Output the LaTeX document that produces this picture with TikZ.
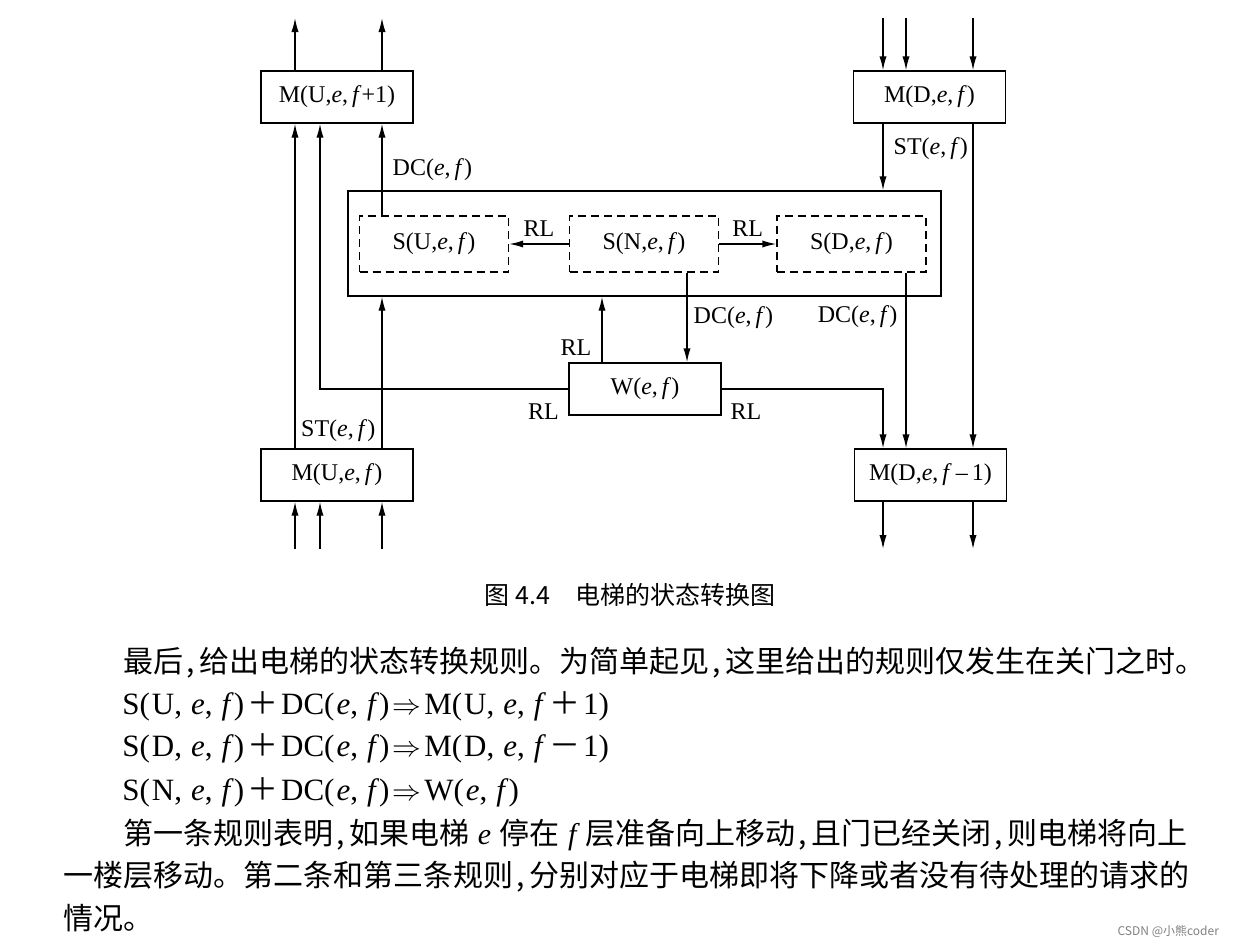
\documentclass[tikz,border=0pt]{standalone}
\usepackage{fontspec}
\setmainfont{Liberation Serif}
\newfontfamily\cjk{Noto Sans CJK SC}
\usetikzlibrary{arrows.meta}
\newcommand\vv[1]{\textit{#1}}
\newcommand\pl{\hspace{1.5pt}{\cjk ＋}\hspace{1.5pt}}
\newcommand\mi{\hspace{1.5pt}{\cjk －}\hspace{1.5pt}}
\newcommand\im{\hspace{1.5pt}$\Rightarrow$\hspace{1.5pt}}
\newcommand\cmm{,\hspace{4.5pt}}
\newcommand\lpar{(\hspace{1pt}}
\newcommand\ccm{\kern0.1em,\kern0.16em}
\tikzset{
  box/.style={draw,line width=0.7pt,minimum width=76pt,minimum height=26pt,inner sep=0pt,font=\fontsize{12}{14}\selectfont},
  sbox/.style={box,dash pattern=on 4pt off 2.5pt,minimum width=74.5pt,minimum height=28pt},
  arr/.style={line width=0.7pt,-{Latex[length=7pt,width=3.6pt]}},
  lbl/.style={font=\fontsize{12}{14}\selectfont,inner sep=2pt},
  txtline/.style={font=\cjk\fontsize{15}{17}\selectfont,anchor=west,inner sep=0pt},
  ruleline/.style={font=\fontsize{15.5}{18}\selectfont,anchor=west,inner sep=0pt}
}
\begin{document}
\begin{tikzpicture}[x=0.5pt,y=-0.5pt]
\useasboundingbox (0,0) rectangle (1240,950);
% states
\node[box] (mu1) at (337,97) {M(U,\vv{e},\,\vv{f}+1)};
\node[box] (md) at (929.5,97) {M(D,\vv{e},\,\vv{f})};
\node[draw,line width=0.7pt,minimum width=296.5pt,minimum height=52.5pt] (ctrl) at (644.5,243.5) {};
\node[sbox] (su) at (434,244) {S(U,\vv{e},\,\vv{f})};
\node[sbox] (sn) at (644,244) {S(N,\vv{e},\,\vv{f})};
\node[sbox] (sd) at (851.5,244) {S(D,\vv{e},\,\vv{f})};
\node[box] (w) at (645,389) {W(\vv{e},\,\vv{f})};
\node[box] (mu) at (337,475) {M(U,\vv{e},\,\vv{f})};
\node[box] (md1) at (930.5,475) {M(D,\vv{e},\,\vv{f}\,--\,1)};
% columns
\foreach \n/\p in {x1/295,x2/320,x3/382,x4/602,x5/687,x6/883,x7/906,x8/973}
  \coordinate (\n) at (\p,0);
\coordinate (top) at (0,18);
\coordinate (bot) at (0,549);
% in and out
\foreach \c in {x1,x3} \draw[arr] (mu1.north -| \c) -- (top -| \c);
\foreach \c in {x1,x2,x3} \draw[arr] (bot -| \c) -- (mu.south -| \c);
\foreach \c in {x6,x7,x8} \draw[arr] (top -| \c) -- (md.north -| \c);
\foreach \c in {x6,x8} \draw[arr] (md1.south -| \c) -- (bot -| \c);
% transitions
\draw[arr] (mu.north -| x1) -- (mu1.south -| x1);
\draw[arr] (w.west) -| node[lbl,pos=0.05,below=5pt]{RL} (mu1.south -| x2);
\draw[arr] (mu.north -| x3) -- node[lbl,pos=0.12,left=1pt]{ST(\vv{e},\,\vv{f})} (ctrl.south -| x3);
\draw[arr] (su.north -| x3) -- node[lbl,pos=0.5,right=3pt]{DC(\vv{e},\,\vv{f})} (mu1.south -| x3);
\draw[arr] (md.south -| x6) -- node[lbl,pos=0.37,right=3pt]{ST(\vv{e},\,\vv{f})} (ctrl.north -| x6);
\draw[arr] (md.south -| x8) -- (md1.north -| x8);
\draw[arr] (sd.south -| x7) -- node[lbl,pos=0.25,left=2pt]{DC(\vv{e},\,\vv{f})} (md1.north -| x7);
\draw[arr] (sn.south -| x5) -- node[lbl,pos=0.5,right=1pt]{DC(\vv{e},\,\vv{f})} (w.north -| x5);
\draw[arr] (w.north -| x4) -- node[lbl,pos=0.23,left=3pt]{RL} (ctrl.south -| x4);
\draw[arr] (w.east) -| node[lbl,pos=0.075,below=5pt]{RL} (md1.north -| x6);
\draw[arr] (sn.west) -- node[lbl,above=1.5pt]{RL} (su.east);
\draw[arr] (sn.east) -- node[lbl,above=1.5pt]{RL} (sd.west);
% caption and text
\node[font=\cjk\fontsize{12.5}{14}\selectfont] (cap) at (630,595) {图 4.4\quad 电梯的状态转换图};
\node[txtline] (l1) at (123,663) {最后\ccm 给出电梯的状态转换规则。为简单起见\ccm 这里给出的规则仅发生在关门之时。};
\node[ruleline] (r1) at (122,706) {S\lpar U\cmm\vv{e}\cmm\vv{f})\pl DC\lpar\vv{e}\cmm\vv{f})\im M\lpar U\cmm\vv{e}\cmm\vv{f}\pl 1)};
\node[ruleline] (r2) at (122,748) {S\lpar D\cmm\vv{e}\cmm\vv{f})\pl DC\lpar\vv{e}\cmm\vv{f})\im M\lpar D\cmm\vv{e}\cmm\vv{f}\mi 1)};
\node[ruleline] (r3) at (122,792) {S\lpar N\cmm\vv{e}\cmm\vv{f})\pl DC\lpar\vv{e}\cmm\vv{f})\im W\lpar\vv{e}\cmm\vv{f})};
\node[txtline] (l2) at (123,835) {第一条规则表明\ccm 如果电梯\kern0.28em{\rmfamily\itshape e}\kern0.28em 停在\kern0.28em{\rmfamily\itshape f}\kern0.3em 层准备向上移动\ccm 且门已经关闭\ccm 则电梯将向上};
\node[txtline] (l3) at (63,877) {一楼层移动。第二条和第三条规则\ccm 分别对应于电梯即将下降或者没有待处理的请求的};
\node[txtline] (l4) at (63,918) {情况。};
\node[font=\cjk\fontsize{6}{8}\selectfont,text=gray,anchor=east] (wm) at (1226,931) {CSDN @小熊coder};
\end{tikzpicture}
\end{document}
